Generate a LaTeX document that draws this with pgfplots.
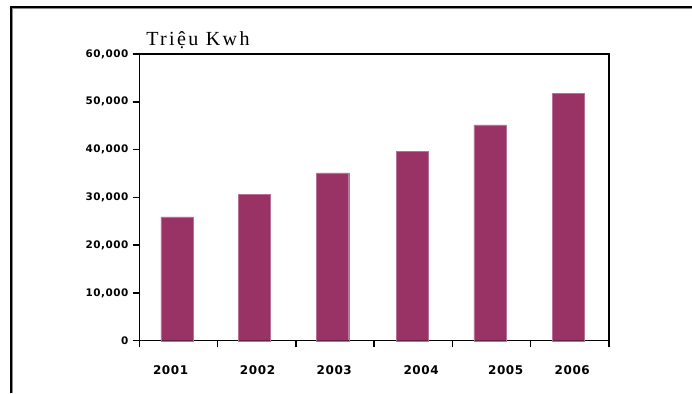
\documentclass[border=0pt]{standalone}
\usepackage{pgfplots}
\pgfplotsset{compat=1.18}
\usepackage{fontspec}
\setmainfont{Liberation Serif}
\newfontfamily\titlefont[LetterSpace=12]{Liberation Serif}
\newfontfamily\tickfont[LetterSpace=5]{DejaVu Sans}
\definecolor{plum}{HTML}{993366}

\begin{document}
\begin{tikzpicture}
\useasboundingbox (0,0) rectangle (519pt,294.75pt);
% frame lines along top and left edge
\draw[black!45, line width=0.75pt] (9.5pt,0) -- (9.5pt,288.2pt) -- (519pt,288.2pt);
\draw[black, line width=1.5pt] (8.25pt,0) -- (8.25pt,289.5pt) -- (519pt,289.5pt);

\begin{axis}[
  at={(104.475pt,39.225pt)}, anchor=south west,
  scale only axis, width=352.275pt, height=215.025pt,
  xmin=0, xmax=6, ymin=0, ymax=60000,
  axis line style={line width=1.1pt},
  xtick={0,1,...,6}, xticklabels={},
  xtick pos=bottom, ytick pos=left,
  xtick align=outside, ytick align=outside,
  major tick length=5pt,
  xtick style={line width=1.1pt, black},
  ytick style={line width=1.1pt, black},
  ytick={0,10000,...,60000},
  scaled y ticks=false,
  /pgf/number format/.cd, 1000 sep={,}, assume math mode=true,
  /pgfplots/.cd,
  yticklabel style={font=\tickfont\bfseries\fontsize{7.8pt}{8pt}\selectfont, inner sep=0pt, xshift=-3pt},
  extra x ticks={0.40,1.51,2.49,3.60,4.68,5.53},
  extra x tick labels={2001,2002,2003,2004,2005,2006},
  extra x tick style={tick style={draw=none},
    tick label style={font=\tickfont\bfseries\fontsize{9pt}{9pt}\selectfont, inner sep=0pt, yshift=-13.5pt}},
  ybar, bar width=0.41,
  clip=false,
]
\addplot[fill=plum, draw=plum!70!white, line width=0.3pt, bar shift=0pt] coordinates {
  (0.48,25900) (1.47,30600) (2.47,35100) (3.49,39700) (4.48,45150) (5.48,51800)
};
\end{axis}
\node[anchor=base west, inner sep=0pt, font=\titlefont\fontsize{15pt}{16pt}\selectfont] at (109.5pt,260.25pt) {Triệu Kwh};
\end{tikzpicture}
\end{document}
